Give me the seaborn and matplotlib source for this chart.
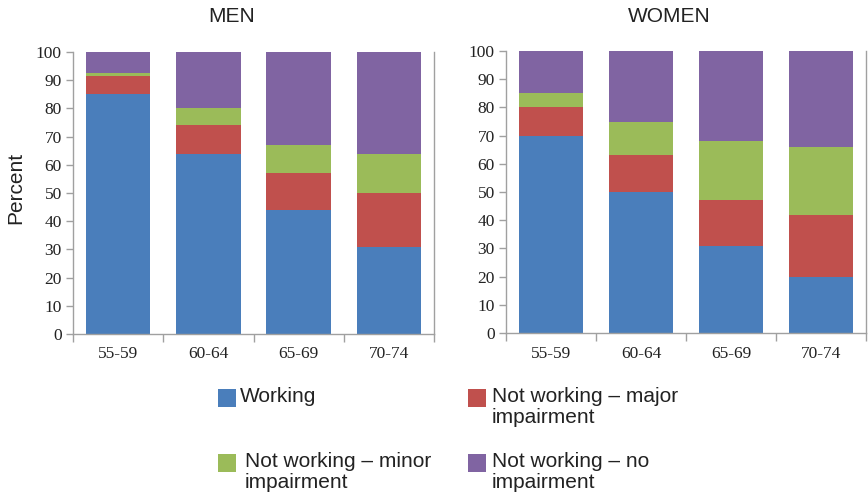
import matplotlib
matplotlib.use("Agg")
import matplotlib.pyplot as plt
from matplotlib.patches import Rectangle
import seaborn as sns
import numpy as np

ages = ["55-59", "60-64", "65-69", "70-74"]
series = ["Working", "Not working \u2013 major\nimpairment",
          "Not working \u2013 minor\nimpairment", "Not working \u2013 no\nimpairment"]
colors = ["#4a7ebb", "#c0504d", "#9bbb59", "#8064a2"]

men_working = [85, 64, 44, 31]
men_major = [6.5, 10, 13, 19]
men_minor = [1, 6, 10, 14]
men_none = [7.5, 20, 33, 36]

women_working = [70, 50, 31, 20]
women_major = [10, 13, 16, 22]
women_minor = [5, 12, 21, 24]
women_none = [15, 25, 32, 34]

sns.set_style("white")
plt.rcParams['font.family'] = ['Liberation Sans', 'DejaVu Sans']

fig = plt.figure(figsize=(8.68, 4.95), dpi=100)
ax_men = fig.add_axes([73/868, 1-334/495, 361/868, 282/495])
ax_women = fig.add_axes([506/868, 1-333/495, 360/868, 282/495])

grey = "#a0a0a0"
panels = [(ax_men, [men_working, men_major, men_minor, men_none]),
          (ax_women, [women_working, women_major, women_minor, women_none])]

for ax, parts in panels:
    bottom = np.zeros(len(ages))
    for vals, c in zip(parts, colors):
        sns.barplot(x=ages, y=vals, bottom=bottom, color=c, saturation=1,
                    width=0.715, errorbar=None, linewidth=0, ax=ax)
        bottom = bottom + np.array(vals)
    ax.set_xlim(-0.5, 3.5)
    ax.set_ylim(0, 100)
    ax.set_yticks(range(0, 101, 10))
    ax.set_xticks([-0.5, 0.5, 1.5, 2.5, 3.5], minor=False)
    ax.set_xticklabels([])
    ax.set_xticks(range(4), minor=True)
    ax.set_xticklabels(ages, minor=True)
    ax.tick_params(axis="x", which="major", direction="out", length=6,
                   color=grey, width=1, bottom=True)
    ax.tick_params(axis="x", which="minor", length=0, pad=9)
    ax.tick_params(axis="y", direction="out", length=5, color=grey,
                   width=1, left=True, pad=3)
    for lab in ax.get_xticklabels(minor=True) + ax.get_yticklabels():
        lab.set_fontfamily("Liberation Serif")
        lab.set_fontsize(12.5)
        lab.set_color("#222222")
    for s in ["left", "bottom", "right"]:
        ax.spines[s].set_visible(True)
        ax.spines[s].set_color(grey)
        ax.spines[s].set_linewidth(1)
    ax.spines["top"].set_visible(False)
    ax.set_xlabel("")
    ax.set_ylabel("")

fig.text(232/868, 1-16/495, "MEN", ha="center", va="center", fontsize=15, color="#222222")
fig.text(669/868, 1-16/495, "WOMEN", ha="center", va="center", fontsize=15, color="#222222")
fig.text(16/868, 1-188/495, "Percent", ha="center", va="center", rotation=90,
         fontsize=15, color="#222222")

# legend, 2 x 2 grid
legend_pos = [(218, 389, 240), (468, 389, 492), (218, 454, 245), (468, 454, 492)]
for (mx, my, tx), lab, c in zip(legend_pos, series, colors):
    fig.add_artist(Rectangle((mx/868, 1-(my+18)/495), 18/868, 18/495,
                             transform=fig.transFigure, facecolor=c,
                             edgecolor="none"))
    fig.text(tx/868, 1-(my-2)/495, lab, ha="left", va="top", fontsize=15,
             color="#222222", linespacing=1.12)

fig.savefig("out.png", dpi=100)
